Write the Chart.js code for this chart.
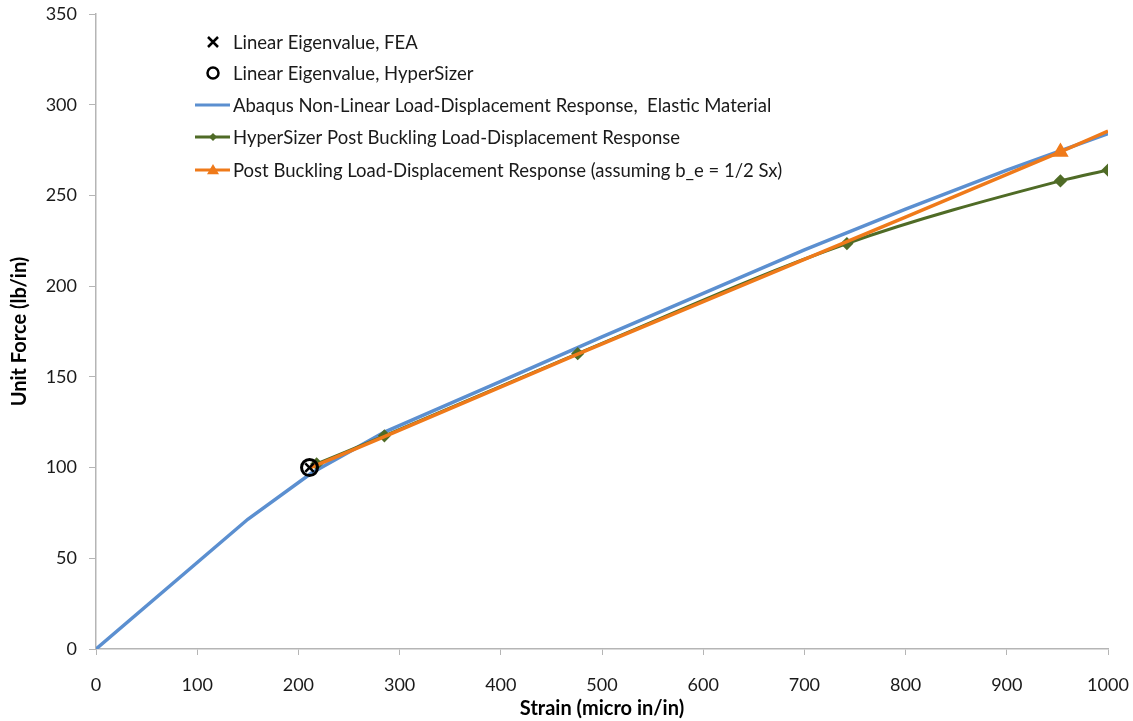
<!DOCTYPE html>
<html>
<head>
<meta charset="utf-8">
<script src="https://cdn.jsdelivr.net/npm/chart.js@4"></script>
<style>
  html, body { margin: 0; padding: 0; background: #fff; }
  #wrap { width: 1133px; height: 721px; position: relative; }
</style>
</head>
<body>
<div id="wrap"><canvas id="chart"></canvas></div>
<script>
// values
const eigenStrain = [211];
const eigenFeaForce = [100];
const eigenHsForce = [100];

const abaqusStrain = [0, 150, 213, 285, 400, 500, 600, 700, 800, 900, 1000];
const abaqusForce = [0, 71.5, 97, 119.5, 147.5, 172, 196, 220, 242.5, 264, 284];

const hsStrain = [218, 285, 476, 742, 953, 1000];
const hsForce = [102, 117.5, 162.8, 223.5, 258, 264];

const beStrain = [212, 285, 476, 742, 953, 1000];
const beForce = [100, 117, 162.5, 224.5, 274, 285.5];
const beMarkers = [0, 0, 0, 0, 6, 0];

const xTicks = [0, 100, 200, 300, 400, 500, 600, 700, 800, 900, 1000];
const yTicks = [0, 50, 100, 150, 200, 250, 300, 350];

function pts(xs, ys) {
    return xs.map(function(x, i) { return {x: x, y: ys[i]}; });
}

const FONT = 'Lato, "Open Sans", sans-serif';
const BLUE = '#5b8fd0';
const GREEN = '#4f6b26';
const ORANGE = '#ef7a1a';

// draws one legend marker
function drawMarker(ctx, style, x, y, r, color, lw) {
    ctx.save();
    ctx.strokeStyle = color;
    ctx.fillStyle = color;
    ctx.lineWidth = lw;
    ctx.beginPath();
    if (style === 'crossRot') {
        ctx.moveTo(x - r, y - r); ctx.lineTo(x + r, y + r);
        ctx.moveTo(x + r, y - r); ctx.lineTo(x - r, y + r);
        ctx.stroke();
    } else if (style === 'circle') {
        ctx.arc(x, y, r, 0, Math.PI * 2);
        ctx.stroke();
    } else if (style === 'rectRot') {
        ctx.moveTo(x, y - r); ctx.lineTo(x + r, y); ctx.lineTo(x, y + r); ctx.lineTo(x - r, y);
        ctx.closePath(); ctx.fill();
    } else if (style === 'triangle') {
        ctx.moveTo(x, y - r); ctx.lineTo(x + r, y + r * 0.7); ctx.lineTo(x - r, y + r * 0.7);
        ctx.closePath(); ctx.fill();
    }
    ctx.restore();
}

// legend inside the plot area, top-left
const insideLegend = {
    id: 'insideLegend',
    afterDraw: function(chart) {
        const ctx = chart.ctx;
        const rows = [42, 73, 105, 137, 170];
        const items = [
            {label: 'Linear Eigenvalue, FEA', marker: 'crossRot', r: 5, lw: 2.5, color: '#000'},
            {label: 'Linear Eigenvalue, HyperSizer', marker: 'circle', r: 5.5, lw: 2.5, color: '#000'},
            {label: 'Abaqus Non-Linear Load-Displacement Response,  Elastic Material', line: BLUE, lw: 3},
            {label: 'HyperSizer Post Buckling Load-Displacement Response', line: GREEN, lw: 3, marker: 'rectRot', r: 4, color: GREEN},
            {label: 'Post Buckling Load-Displacement Response (assuming b_e = 1/2 Sx)', line: ORANGE, lw: 3, marker: 'triangle', r: 6, color: ORANGE}
        ];
        ctx.save();
        ctx.font = '18.5px ' + FONT;
        ctx.fillStyle = '#1a1a1a';
        ctx.textBaseline = 'middle';
        items.forEach(function(it, i) {
            const y = rows[i];
            if (it.line) {
                ctx.strokeStyle = it.line;
                ctx.lineWidth = it.lw;
                ctx.beginPath();
                ctx.moveTo(195, y); ctx.lineTo(230, y);
                ctx.stroke();
            }
            if (it.marker) drawMarker(ctx, it.marker, 213, y, it.r, it.color, it.lw);
            ctx.fillText(it.label, 233, y + 1);
        });
        ctx.restore();
    }
};

const ctx = document.getElementById('chart');
new Chart(ctx, {
    type: 'line',
    data: {
        datasets: [
            {
                label: 'Linear Eigenvalue, FEA',
                data: pts(eigenStrain, eigenFeaForce),
                showLine: false,
                pointStyle: 'crossRot',
                pointRadius: 6,
                borderColor: '#000',
                borderWidth: 2.5,
                order: 0
            },
            {
                label: 'Linear Eigenvalue, HyperSizer',
                data: pts(eigenStrain, eigenHsForce),
                showLine: false,
                pointStyle: 'circle',
                pointRadius: 8,
                borderColor: '#000',
                backgroundColor: 'rgba(0,0,0,0)',
                borderWidth: 3,
                order: 1
            },
            {
                label: 'Abaqus Non-Linear Load-Displacement Response, Elastic Material',
                data: pts(abaqusStrain, abaqusForce),
                borderColor: BLUE,
                borderWidth: 3.5,
                pointRadius: 0,
                tension: 0,
                order: 4
            },
            {
                label: 'HyperSizer Post Buckling Load-Displacement Response',
                data: pts(hsStrain, hsForce),
                borderColor: GREEN,
                backgroundColor: GREEN,
                borderWidth: 3,
                pointStyle: 'rectRot',
                pointRadius: 4.5,
                cubicInterpolationMode: 'monotone',
                order: 3
            },
            {
                label: 'Post Buckling Load-Displacement Response (assuming b_e = 1/2 Sx)',
                data: pts(beStrain, beForce),
                borderColor: ORANGE,
                backgroundColor: ORANGE,
                borderWidth: 3.5,
                pointStyle: 'triangle',
                pointRadius: beMarkers,
                cubicInterpolationMode: 'monotone',
                order: 2
            }
        ]
    },
    options: {
        responsive: true,
        maintainAspectRatio: false,
        animation: false,
        layout: { padding: { top: 14, right: 25, left: 0, bottom: 0 } },
        plugins: {
            legend: { display: false },
            tooltip: { enabled: false }
        },
        scales: {
            x: {
                type: 'linear',
                min: 0,
                max: 1000,
                afterBuildTicks: function(axis) { axis.ticks = xTicks.map(function(v) { return {value: v}; }); },
                afterFit: function(axis) {
                    axis.height = 72;
                    axis.paddingLeft = 0;
                    axis.paddingRight = 0;
                },
                grid: { drawOnChartArea: false, tickLength: 6, color: '#b5b5b5' },
                border: { color: '#b5b5b5', width: 1.5 },
                ticks: {
                    font: { family: FONT, size: 18 }, color: '#1a1a1a', padding: 19, maxRotation: 0,
                    callback: function(v) { return String(v); }
                },
                title: {
                    display: true,
                    text: 'Strain (micro in/in)',
                    font: { family: FONT, size: 20, weight: 'bold' },
                    color: '#000',
                    padding: { top: 0, bottom: 0 }
                }
            },
            y: {
                min: 0,
                max: 350,
                afterBuildTicks: function(axis) { axis.ticks = yTicks.map(function(v) { return {value: v}; }); },
                afterFit: function(axis) {
                    axis.width = 96;
                    axis.paddingTop = 0;
                    axis.paddingBottom = 0;
                },
                grid: { drawOnChartArea: false, tickLength: 7, color: '#b5b5b5' },
                border: { color: '#b5b5b5', width: 1.5 },
                ticks: {
                    font: { family: FONT, size: 18 }, color: '#1a1a1a', padding: 12,
                    callback: function(v) { return String(v); }
                },
                title: {
                    display: true,
                    text: 'Unit Force (lb/in)',
                    font: { family: FONT, size: 20, weight: 'bold' },
                    color: '#000',
                    padding: { top: 8, bottom: 0 }
                }
            }
        }
    },
    plugins: [insideLegend]
});
</script>
</body>
</html>
